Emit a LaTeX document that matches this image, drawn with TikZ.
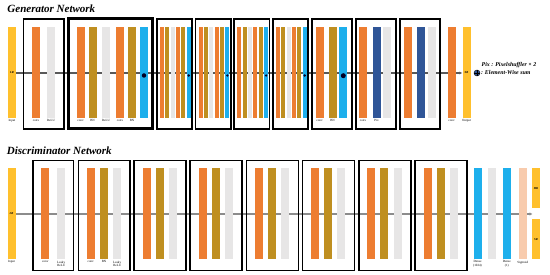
\documentclass[tikz,border=0pt]{standalone}
\usepackage{fontspec}
\setmainfont{Liberation Serif}
\usepackage{tikz}
\usetikzlibrary{positioning, arrows.meta, backgrounds}
\definecolor{convc}{HTML}{ED7D31}
\definecolor{bnc}{HTML}{BF8F20}
\definecolor{reluc}{HTML}{E7E6E6}
\definecolor{sumc}{HTML}{1DAFEC}
\definecolor{pixc}{HTML}{2F5597}
\definecolor{ioc}{HTML}{FFC02D}
\definecolor{sigc}{HTML}{F8CBAD}
\tikzset{
  layer/.style={rectangle, inner sep=0pt, minimum width=8pt, minimum height=91pt,
    font=\fontsize{3}{3}\selectfont\bfseries\itshape},
  slim/.style={minimum width=4pt},
  conv/.style={layer, fill=convc},
  bn/.style={layer, fill=bnc},
  relu/.style={layer, fill=reluc},
  esum/.style={layer, fill=sumc},
  pix/.style={layer, fill=pixc},
  io/.style={layer, fill=ioc},
  sig/.style={layer, fill=sigc},
  block/.style={rectangle, draw, line width=1.6pt, inner sep=0pt,
    minimum width=35.5pt, minimum height=110pt},
  tag/.style={font=\fontsize{3.2}{3.6}\selectfont, align=center, inner sep=0.4pt},
  dot/.style={circle, fill=black!85!blue, inner sep=0pt, minimum size=4.5pt},
  title/.style={font=\fontsize{11}{12}\selectfont\bfseries\itshape, anchor=west, inner sep=0pt},
  legend/.style={font=\fontsize{5.9}{6.5}\selectfont\bfseries\itshape, inner sep=0pt},
  gline/.style={draw=black!65, line width=1.4pt, -{Latex[length=3pt, width=3pt]}},
  dline/.style={draw=black!45, line width=2pt, -{Latex[length=3pt, width=3.5pt]}},
}

\begin{document}
\begin{tikzpicture}[x=1pt, y=-1pt]
  \useasboundingbox (0,0) rectangle (550,275);

  % generator
  \node (gtitle) [title] at (7.3,8.5) {Generator Network};
  \node (gin) [io] at (12,73) {LR};
  \node (gin-t) [tag, below=0.5pt of gin] {Input};

  \node (gb1) [block, minimum width=40.5pt] at (43.6,74) {};
  \node (g1a) [conv] at (36,73) {};
  \node (g1b) [relu] at (51,73) {};
  \node (g1a-t) [tag, below=0.5pt of g1a] {conv};
  \node (g1b-t) [tag, below=0.5pt of g1b] {ReLU};

  \node (gb2) [block, line width=3pt, minimum width=84pt] at (110,74) {};
  \node (g2a) [conv] at (80.5,73) {};
  \node (g2b) [bn] at (92.5,73) {};
  \node (g2c) [relu] at (106,73) {};
  \node (g2d) [conv] at (120,73) {};
  \node (g2e) [bn] at (132,73) {};
  \node (g2f) [esum] at (144,73) {};
  \node (g2a-t) [tag, below=0.5pt of g2a] {conv};
  \node (g2b-t) [tag, below=0.5pt of g2b] {BN};
  \node (g2c-t) [tag, below=0.5pt of g2c] {ReLU};
  \node (g2d-t) [tag, below=0.5pt of g2d] {conv};
  \node (g2e-t) [tag, below=0.5pt of g2e] {BN};
  \node (g2s) [dot] at (144,75.5) {};

  % residual blocks
  \foreach \i in {0,...,3}{
    \pgfmathsetmacro{\bx}{156.7+38.67*\i}
    \node (rb\i) [block] at (\bx+17.75,74) {};
    \node (r\i-1) [conv, slim] at (\bx+5.3,73) {};
    \node (r\i-2) [bn, slim] at (\bx+10.65,73) {};
    \node (r\i-3) [relu, slim] at (\bx+16,73) {};
    \node (r\i-4) [conv, slim] at (\bx+21.35,73) {};
    \node (r\i-5) [bn, slim] at (\bx+26.7,73) {};
    \node (r\i-6) [esum, slim] at (\bx+32.05,73) {};
    \node (r\i-s) [dot, minimum size=2.6pt] at (\bx+32.05,75.5) {};
  }

  \node (gb7) [block, minimum width=40pt] at (331.7,74) {};
  \node (g7a) [conv] at (319.5,73) {};
  \node (g7b) [bn] at (332.5,73) {};
  \node (g7c) [esum] at (343.3,73) {};
  \node (g7a-t) [tag, below=0.5pt of g7a] {conv};
  \node (g7b-t) [tag, below=0.5pt of g7b] {BN};
  \node (g7s) [dot, minimum size=5pt] at (343.3,75.7) {};

  \node (gb8) [block, minimum width=40pt] at (375.7,74) {};
  \node (g8a) [conv] at (363,73) {};
  \node (g8b) [pix] at (376.5,73) {};
  \node (g8c) [relu] at (387,73) {};
  \node (g8a-t) [tag, below=0.5pt of g8a] {conv};
  \node (g8b-t) [tag, below=0.5pt of g8b] {Pix};

  \node (gb9) [block, minimum width=40pt] at (420,74) {};
  \node (g9a) [conv] at (407.5,73) {};
  \node (g9b) [pix] at (421,73) {};
  \node (g9c) [relu] at (431.5,73) {};

  \node (gc) [conv] at (451.5,73) {};
  \node (gc-t) [tag, below=0.5pt of gc] {conv};
  \node (gout) [io] at (466.5,73) {SR};
  \node (gout-t) [tag, below=0.5pt of gout] {Output};

  \begin{scope}[on background layer]
    \draw [gline] (gin) -- (gout);
  \end{scope}

  % legend
  \node (lg1) [legend, anchor=west] at (481.5,65) {Pix : Pixelshuffler × 2};
  \node (lgsum) [circle, draw, fill=pixc, minimum size=6pt, inner sep=0pt, line width=0.4pt] at (477,73) {};
  \draw [line width=0.4pt] (lgsum.north) -- (lgsum.south) (lgsum.west) -- (lgsum.east);
  \node (lg2) [legend, right=0.6pt of lgsum] {: Element-Wise sum};

  % discriminator
  \node (dtitle) [title] at (6.7,150.5) {Discriminator Network};
  \node (din) [io] at (11.5,214) {LR};
  \node (din-t) [tag, below=0.5pt of din] {Input};

  \node (db1) [block, minimum width=40.6pt] at (53,215.7) {};
  \node (d1a) [conv] at (45.3,214) {};
  \node (d1b) [relu] at (61.2,214) {};
  \node (d1a-t) [tag, below=0.5pt of d1a] {conv};
  \node (d1b-t) [tag, below=0.5pt of d1b] {Leaky\\ReLU};

  \node (db2) [block, minimum width=51.7pt] at (104.15,215.7) {};
  \node (d2a) [conv] at (90.7,214) {};
  \node (d2b) [bn] at (104,214) {};
  \node (d2c) [relu] at (117.2,214) {};
  \node (d2a-t) [tag, below=0.5pt of d2a] {conv};
  \node (d2b-t) [tag, below=0.5pt of d2b] {BN};
  \node (d2c-t) [tag, below=0.5pt of d2c] {Leaky\\ReLU};

  \foreach \i in {0,...,5}{
    \pgfmathsetmacro{\bx}{134+56.2*\i}
    \node (dc\i) [block, minimum width=52pt] at (\bx+26,215.7) {};
    \node (dc\i-1) [conv] at (\bx+12.6,214) {};
    \node (dc\i-2) [bn] at (\bx+25.6,214) {};
    \node (dc\i-3) [relu] at (\bx+38.8,214) {};
  }

  \node (dd1) [esum] at (477.5,214) {};
  \node (dr) [relu] at (491.5,214) {};
  \node (dd2) [esum] at (506.8,214) {};
  \node (dsig) [sig] at (522.8,214) {};
  \node (dd1-t) [tag, below=0.5pt of dd1] {Dense\\(1024)};
  \node (dd2-t) [tag, below=0.5pt of dd2] {Dense\\(1)};
  \node (dsig-t) [tag, below=0.5pt of dsig] {Sigmoid};
  \node (dhr) [io, minimum height=40pt] at (536,188.3) {HR};
  \node (dsr) [io, minimum height=40pt] at (536,239.2) {SR};
  \coordinate (dend) at (532.5,214);

  \begin{scope}[on background layer]
    \draw [dline] (din) -- (dend);
  \end{scope}
\end{tikzpicture}
\end{document}
